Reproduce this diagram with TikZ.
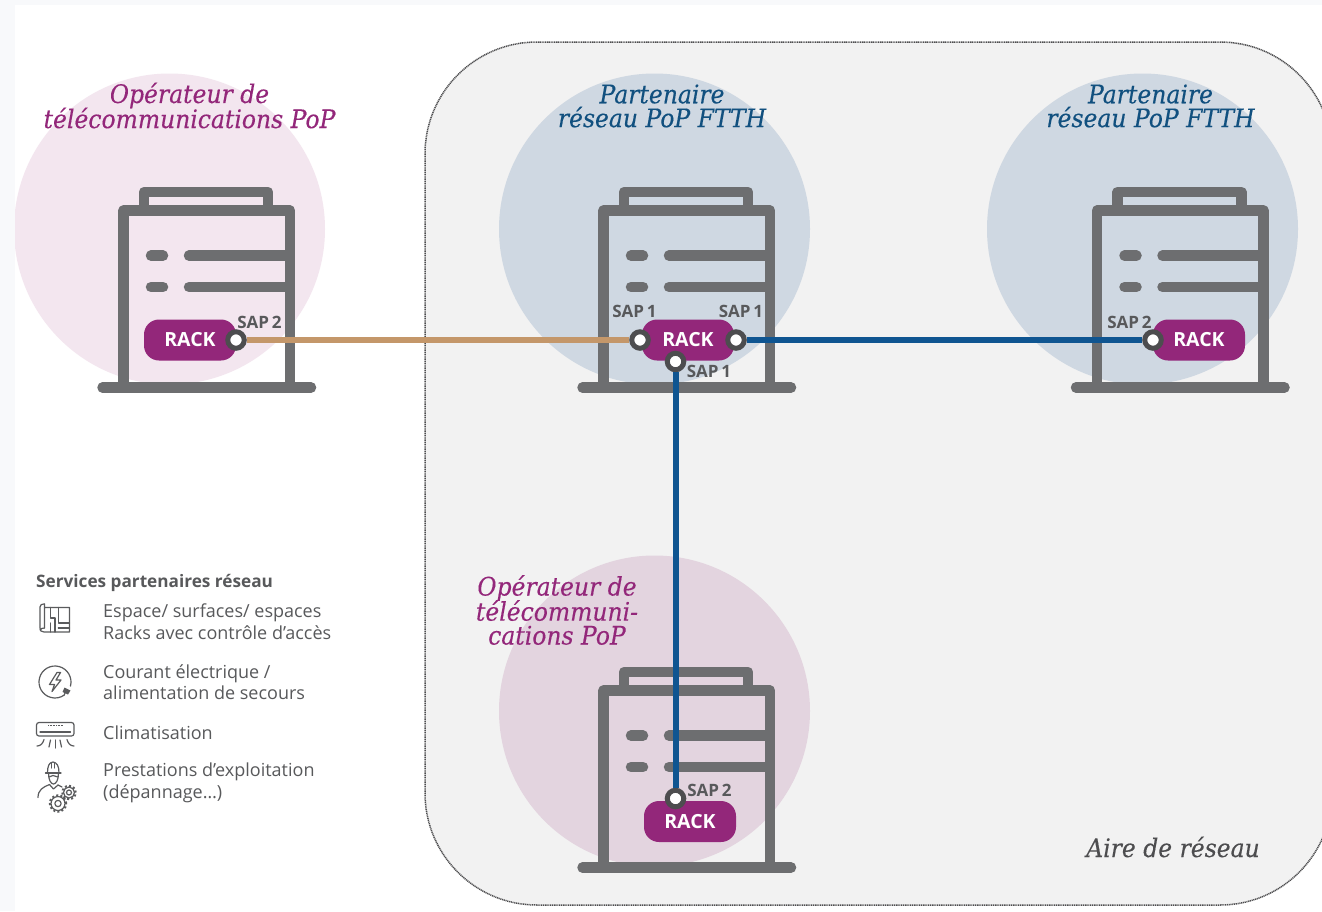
\documentclass[tikz,border=0pt]{standalone}
\usepackage{fontspec}
\setmainfont{Open Sans}
\newfontfamily\titlefont[FakeStretch=0.92,FakeBold=0.25]{DejaVu Serif}
\usetikzlibrary{calc}
\definecolor{bldg}{HTML}{6D6E70}
\definecolor{magent}{HTML}{93277A}
\definecolor{navy}{HTML}{0F5591}
\definecolor{titleblue}{HTML}{11507F}
\definecolor{tan}{HTML}{C4976A}
\definecolor{txt}{HTML}{58595B}
\definecolor{portc}{HTML}{4D4D4F}
\definecolor{icon}{HTML}{5A5B5D}
\definecolor{pale}{HTML}{F8F9FB}
\definecolor{area}{HTML}{F2F2F2}
\definecolor{discpink}{HTML}{F3E6EF}
\definecolor{discblue}{HTML}{CFD8E2}
\definecolor{discmauve}{HTML}{E3D4DF}
\newcommand{\fs}[1]{\fontsize{#1}{#1}\selectfont}
\tikzset{
  wall/.style={draw=bldg,line width=10.5pt,line cap=round,line join=round},
  rackbox/.style={fill=magent,rounded corners=15pt,minimum width=92pt,minimum height=41pt,inner sep=0pt,text=white,font=\fs{19.5}\bfseries},
  port/.style={circle,fill=white,draw=portc,line width=5pt,minimum size=16.5pt,inner sep=0pt},
  saplab/.style={text=txt,font=\fs{17}\bfseries,inner sep=0pt},
  link/.style={line width=6pt},
  title/.style={align=center,font=\titlefont\itshape\fs{25.5},inner sep=0pt},
  legend/.style={anchor=west,align=left,text=txt,font=\fs{18},inner sep=0pt},
  ico/.style={draw=icon,line width=1.2pt,line cap=round,line join=round},
}
\newcommand{\building}[2]{%
  \begin{scope}[shift={(#1,#2)}]
    \draw[wall] (624,205)--(624,192)--(748,192)--(748,205);
    \draw[wall,line cap=butt] (603.5,385)--(603.5,210.5)--(770,210.5)--(770,385);
    \draw[wall] (582.5,387.5)--(791,387.5);
    \draw[wall] (631,255.7)--(643,255.7);
    \draw[wall] (631,287)--(643,287);
    \draw[wall] (669,255.7)--(768,255.7);
    \draw[wall] (669,287)--(768,287);
  \end{scope}}
\newcommand{\gear}[3]{%
  \draw[ico,line cap=butt] (#1,#2) circle (#3pt);
  \draw[ico] (#1,#2) circle (#3pt*0.45);
  \draw[icon,line width=2pt,line cap=butt,dash pattern=on 2pt off 2.2pt] (#1,#2) circle (#3pt+1.2pt);}
\begin{document}
\begin{tikzpicture}[x=1pt,y=-1pt]
\useasboundingbox (0,0) rectangle (1322,911);
\fill[white] (0,0) rectangle (1322,911);
\fill[pale] (0,0) rectangle (1322,5);
\fill[pale] (0,0) rectangle (15,911);
% network area
\begin{scope}
\clip (0,0) rectangle (1322,911);
\draw[draw=portc,fill=area,line width=1.5pt,dash pattern=on 1.1pt off 0.7pt,rounded corners=112pt] (425,42) rectangle (1332,905);
\end{scope}
% discs
\begin{scope}
\clip (15,5) rectangle (1322,911);
\fill[discpink] (169.5,229) circle (155.5pt);
\end{scope}
\fill[discblue] (654.5,229) circle (155.5pt);
\fill[discblue] (1142.5,229) circle (155.5pt);
\fill[discmauve] (654.5,711) circle (155.5pt);
% buildings
\building{-480}{0}
\building{0}{0}
\building{493.5}{0}
\building{0}{480}
% titles
\node[title,text=magent] (t1) at (189.5,105.5) {Opérateur de\\[-1.6pt]télécommunications PoP};
\node[title,text=titleblue] (t2) at (662,106) {Partenaire\\[-1.6pt]réseau PoP FTTH};
\node[title,text=titleblue] (t3) at (1150.5,106) {Partenaire\\[-1.6pt]réseau PoP FTTH};
\node[title,text=magent] (t4) at (557,610) {Opérateur de\\[-1.6pt]télécommuni-\\[-1.6pt]cations PoP};
\node[text=portc,font=\titlefont\itshape\fs{25.5},inner sep=0pt] (aire) at (1173,847) {Aire de réseau};
% racks
\node[rackbox] (r1) at (190,340) {RACK};
\node[rackbox] (r2) at (688,340) {RACK};
\node[rackbox] (r3) at (1199,340) {RACK};
\node[rackbox] (r4) at (690,821.5) {RACK};
% ports
\node[port] (p1) at (236,340) {};
\node[port] (p2l) at (640,340) {};
\node[port] (p2r) at (736,340) {};
\node[port] (p2b) at (675.5,361.5) {};
\node[port] (p3) at (1153,340) {};
\node[port] (p4) at (675.5,798.5) {};
% connectors
\draw[link,tan] (p1) -- (p2l);
\draw[link,navy] (p2r) -- (p3);
\draw[link,navy] (p2b) -- (p4);
% port labels
\node[saplab] (s1) at (259.5,322) {SAP\,2};
\node[saplab] (s2) at (634.5,311) {SAP\,1};
\node[saplab] (s3) at (741,311) {SAP\,1};
\node[saplab] (s4) at (709,371.5) {SAP\,1};
\node[saplab] (s5) at (1129.5,322) {SAP\,2};
\node[saplab] (s6) at (709.5,790) {SAP\,2};
% legend
\node[anchor=west,text=txt,font=\fs{17.2}\bfseries,inner sep=0pt] (lh) at (36,583) {Services partenaires réseau};
\node[legend] (l1) at (103,621.5) {Espace/ surfaces/ espaces\\[3pt]Racks avec contrôle d’accès};
\node[legend] (l2) at (103,682) {Courant électrique /\\[3pt]alimentation de secours};
\node[legend] (l3) at (103,732.5) {Climatisation};
\node[legend] (l4) at (103,782.5) {Prestations d’exploitation\\[3pt](dépannage…)};
% plan icon
\draw[ico] (44.5,607.5)--(69.5,607.5)--(69.5,632)--(44,632) .. controls (41,632) and (40,630.5) .. (40,628) -- (40,607) .. controls (40,605) and (41.5,603.8) .. (44.5,603.8) -- (44.5,628);
\draw[ico] (44.5,628) .. controls (42.5,628) and (41,628.5) .. (40,630);
\draw[ico] (50.7,607.5)--(50.7,618)--(55,618)--(55,632);
\draw[ico] (50.7,623)--(50.7,632);
\draw[ico] (58.3,607.5)--(58.3,623)--(69.5,623);
\draw[ico] (58.3,628)--(69.5,628);
% power icon
\draw[ico] (55,682) ++(-15:16pt) arc (-15:305:16pt);
\draw[ico] (57,672.5)--(49.5,684.5)--(54.5,684.5)--(52,691.5)--(61,680)--(56,680)--(60.5,672.5)--cycle;
\draw[ico] (64.2,695) -- (65.5,692);
\fill[icon] (64.5,687.5)--(70.5,690.5)--(68,694.5)--(62.5,692)--cycle;
% air conditioner icon
\draw[ico,rounded corners=2.5pt] (36.5,722.5)rectangle(74,736);
\draw[ico] (40,732)--(70.5,732);
\draw[icon,line width=1pt,dash pattern=on 1pt off 0.6pt] (48,725.5)--(63,725.5);
\draw[ico] (37,746) .. controls (41,746) and (43,743) .. (44,739.5);
\draw[ico] (49,747)--(50.5,740);
\draw[ico] (55.2,748)--(55.2,740);
\draw[ico] (61.5,747)--(60,740);
\draw[ico] (74,746) .. controls (70,746) and (68,743) .. (67,739.5);
% worker icon
\draw[ico] (45.5,773) -- (61,773);
\draw[ico] (47.5,773) .. controls (47.5,766) and (49,762.5) .. (53,762) .. controls (57,762.5) and (59,766) .. (59,773);
\draw[ico] (51.5,763)--(51.5,768) (54.5,763)--(54.5,768);
\draw[ico] (48.5,773) .. controls (48.5,780) and (51,784) .. (53.5,784) .. controls (56,784) and (58.5,780) .. (58.5,773);
\draw[ico] (49,777)--(53,775.5)--(58,777);
\draw[ico] (38,797.5) .. controls (38,790) and (43,787) .. (49.5,784.5);
\draw[ico] (49.5,784.5) -- (53.5,789) -- (58,785);
\draw[ico] (58,785) -- (62,787);
\gear{58}{803.5}{7}
\gear{69}{792.5}{5.5}
\end{tikzpicture}
\end{document}
